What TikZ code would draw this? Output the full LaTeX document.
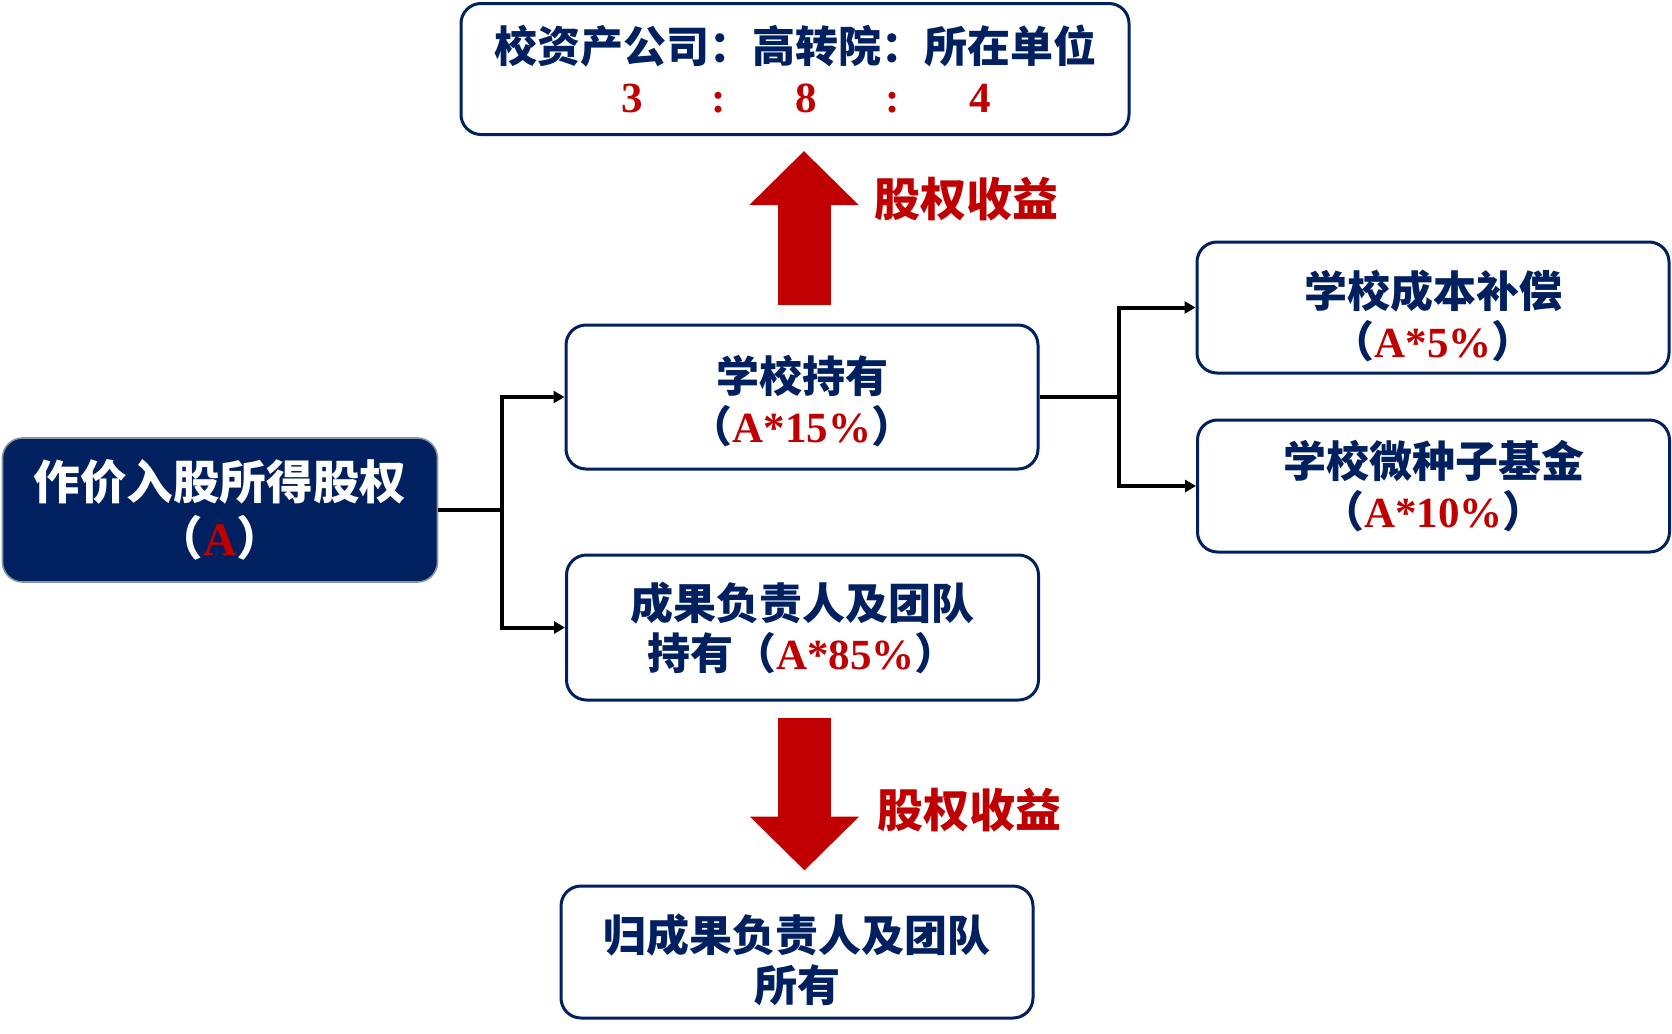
\documentclass[tikz,border=0pt]{standalone}
\usepackage{fontspec}
\setmainfont{Liberation Serif}
\newfontfamily\cjk{Noto Sans CJK SC}
\usetikzlibrary{arrows.meta}

\definecolor{navy}{HTML}{002060}
\definecolor{darkred}{HTML}{C00000}
\definecolor{edgegray}{HTML}{8497A0}

\newcommand{\boxtxt}{\fontsize{21.5pt}{25pt}\selectfont\bfseries\cjk}
\newcommand{\pct}[1]{{\cjk（}{\rmfamily\color{darkred}#1}{\cjk）}}
\newcommand{\lift}[1]{\rule{0pt}{#1}}

\begin{document}
\begin{tikzpicture}[x=0.5pt, y=-0.5pt,
  box/.style={draw=navy, line width=1.5pt, rounded corners=10pt, fill=white,
    text=navy, align=center, font=\boxtxt, inner sep=0pt,
    minimum width=236pt, minimum height=66pt},
  srcbox/.style={draw=edgegray, line width=0.8pt, rounded corners=10pt, fill=navy,
    text=white, align=center, inner sep=0pt,
    font=\fontsize{23.3pt}{28pt}\selectfont\bfseries\cjk},
  conn/.style={draw=black, line width=2pt, -{Triangle[length=5.5pt,width=6pt]}},
  bigarrow/.style={draw=darkred, line width=26.5pt, -{Triangle[length=27pt,width=53pt]}},
  gain/.style={text=darkred, font=\fontsize{23pt}{27pt}\selectfont\bfseries\cjk, inner sep=0pt}]
  \useasboundingbox (0,0) rectangle (1672,1034);

  % top: share of the gains
  \node[box, minimum width=334pt, minimum height=65.5pt] (ratio) at (795,69)
    {校资产公司：高转院：所在单位\\
     \hspace*{11pt}{\rmfamily\color{darkred}\makebox[43.5pt]{3}\makebox[43.5pt]{:}%
     \makebox[43.5pt]{8}\makebox[43.5pt]{:}\makebox[43.5pt]{4}}};

  % source
  \node[srcbox, minimum width=217.5pt, minimum height=72pt] (src) at (220,510)
    {作价入股所得股权\\\pct{A}};

  % middle column
  \node[box, minimum height=72pt] (hold) at (802,397) {\lift{23pt}学校持有\\\pct{A*15\%}};
  \node[box, minimum height=72.5pt] (team) at (802.5,627.5) {成果负责人及团队\\持有\pct{A*85\%}};
  \node[box] (owner) at (797,952) {\lift{27pt}归成果负责人及团队\\所有};

  % right column
  \node[box, minimum height=65.5pt] (cost) at (1433,307.5) {\lift{27pt}学校成本补偿\\\pct{A*5\%}};
  \node[box] (fund) at (1433.5,486) {学校微种子基金\\\pct{A*10\%}};

  % connectors
  \draw[conn] (src.east) -- ++(64,0) |- (hold.west);
  \draw[conn] (src.east) -- ++(64,0) |- (team.west);
  \draw[conn] (hold.east) -- ++(79,0) |- (cost.west);
  \draw[conn] (hold.east) -- ++(79,0) |- (fund.west);

  % gains up and down
  \path (hold.north |- ratio.south) coordinate (uptip);
  \path (team.south |- owner.north) coordinate (downtip);
  \draw[bigarrow] ([xshift=1pt,yshift=9.5pt]hold.north) -- ([xshift=1pt,yshift=-7.5pt]uptip);
  \draw[bigarrow] ([xshift=1pt,yshift=-8pt]team.south) -- ([xshift=1pt,yshift=7pt]downtip);
  \node[gain] (gainup) at (966,199) {股权收益};
  \node[gain] (gaindown) at (969.5,810) {股权收益};

\end{tikzpicture}
\end{document}
